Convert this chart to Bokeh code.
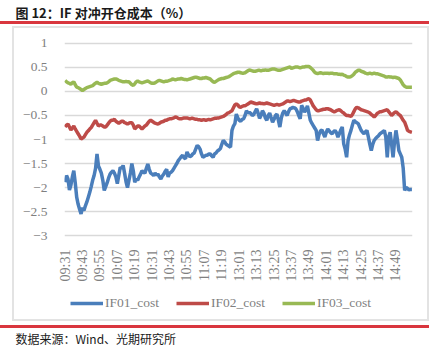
import math
from bokeh.plotting import figure
from bokeh.layouts import column
from bokeh.models import (Range1d, FixedTicker, CustomJSTickFormatter, Title,
                          Legend, LegendItem, ColumnDataSource)
from bokeh.embed import file_html
from bokeh.resources import INLINE

tick_labels = ["09:31", "09:43", "09:55", "10:07", "10:19", "10:31", "10:43",
               "10:55", "11:07", "11:19", "13:01", "13:13", "13:25", "13:37",
               "13:49", "14:01", "14:13", "14:25", "14:37", "14:49"]
tick_every = 12
y_ticks = [-3, -2.5, -2, -1.5, -1, -0.5, 0, 0.5, 1]
series_names = ["IF01_cost", "IF02_cost", "IF03_cost"]

if01_cost = [
    -1.89, -1.75, -1.82, -2.05, -1.95, -1.78, -1.65, -1.9, -2.2, -2.35, -2.45, -2.55,
    -2.42, -2.48, -2.38, -2.3, -2.2, -2.1, -1.98, -1.85, -1.75, -1.6, -1.3, -1.55,
    -1.62, -1.7, -1.85, -2.06, -1.98, -1.9, -1.8, -1.72, -1.68, -1.65, -1.7, -1.78,
    -1.92, -1.75, -1.58, -1.6, -1.54, -1.7, -1.88, -2.0, -1.85, -1.7, -1.5, -1.65,
    -1.89, -1.82, -1.85, -1.78, -1.72, -1.65, -1.68, -1.7, -1.6, -1.51, -1.62, -1.7,
    -1.72, -1.75, -1.7, -1.74, -1.72, -1.78, -1.82, -1.76, -1.72, -1.66, -1.62, -1.78,
    -1.7, -1.68, -1.65, -1.6, -1.55, -1.5, -1.44, -1.4, -1.36, -1.33, -1.38, -1.4,
    -1.26, -1.32, -1.36, -1.34, -1.3, -1.28, -1.2, -1.125, -1.15, -1.2, -1.3, -1.37,
    -1.35, -1.33, -1.33, -1.3, -1.3, -1.34, -1.37, -1.3, -1.28, -1.24, -1.22, -1.19,
    -1.1, -1.02, -1.05, -1.1, -1.12, -1.14, -1.16, -0.81, -0.72, -0.67, -0.47, -0.55,
    -0.6, -0.62, -0.58, -0.57, -0.5, -0.4, -0.45, -0.43, -0.46, -0.5, -0.48, -0.42,
    -0.36, -0.45, -0.56, -0.5, -0.4, -0.45, -0.55, -0.6, -0.5, -0.45, -0.55, -0.64,
    -0.58, -0.5, -0.47, -0.6, -0.74, -0.55, -0.45, -0.4, -0.45, -0.5, -0.42, -0.36,
    -0.35, -0.33, -0.34, -0.36, -0.42, -0.5, -0.57, -0.29, -0.35, -0.43, -0.38, -0.3,
    -0.45, -0.6, -0.66, -0.71, -0.76, -0.81, -1.02, -0.9, -0.82, -0.8, -0.88, -0.95,
    -0.85, -0.78, -0.82, -0.86, -0.88, -0.84, -0.81, -0.86, -0.95, -0.88, -0.8, -0.74,
    -1.09, -1.2, -1.37, -1.02, -0.9, -0.81, -0.7, -0.6, -0.63, -0.65, -0.67, -0.74,
    -0.81, -0.85, -0.88, -0.84, -0.81, -0.95, -1.1, -1.23, -1.1, -1.02, -0.98, -0.95,
    -0.92, -0.88, -0.86, -0.84, -0.81, -0.95, -1.37, -0.95, -0.85, -1.1, -1.37, -1.05,
    -0.81, -1.0, -1.23, -1.3, -1.37, -1.6, -2.06, -2.0, -2.02, -2.05, -2.04, -2.04,
]

if02_cost = [
    -0.74, -0.7, -0.68, -0.74, -0.8, -0.76, -0.72, -0.78, -0.83, -0.88, -0.93, -0.99,
    -0.97, -0.95, -0.9, -0.85, -0.82, -0.78, -0.75, -0.7, -0.65, -0.6, -0.66, -0.72,
    -0.7, -0.7, -0.72, -0.74, -0.74, -0.7, -0.66, -0.62, -0.6, -0.6, -0.58, -0.62,
    -0.64, -0.66, -0.64, -0.62, -0.62, -0.65, -0.66, -0.68, -0.66, -0.65, -0.65, -0.7,
    -0.78, -0.75, -0.72, -0.72, -0.75, -0.78, -0.75, -0.72, -0.7, -0.66, -0.62, -0.6,
    -0.62, -0.64, -0.66, -0.67, -0.68, -0.66, -0.64, -0.63, -0.62, -0.6, -0.6, -0.58,
    -0.57, -0.57, -0.56, -0.55, -0.53, -0.54, -0.56, -0.57, -0.57, -0.56, -0.55, -0.55,
    -0.55, -0.56, -0.57, -0.56, -0.56, -0.57, -0.58, -0.58, -0.59, -0.59, -0.6, -0.59,
    -0.59, -0.6, -0.59, -0.58, -0.59, -0.58, -0.57, -0.56, -0.56, -0.55, -0.55, -0.54,
    -0.53, -0.52, -0.5, -0.48, -0.45, -0.44, -0.42, -0.4, -0.34, -0.28, -0.26, -0.28,
    -0.32, -0.33, -0.31, -0.3, -0.3, -0.28, -0.26, -0.24, -0.22, -0.23, -0.24, -0.25,
    -0.26, -0.25, -0.24, -0.25, -0.25, -0.26, -0.25, -0.24, -0.25, -0.26, -0.27, -0.28,
    -0.29, -0.28, -0.27, -0.28, -0.28, -0.27, -0.26, -0.24, -0.22, -0.2, -0.2, -0.21,
    -0.2, -0.19, -0.19, -0.2, -0.21, -0.22, -0.22, -0.2, -0.19, -0.18, -0.18, -0.16,
    -0.15, -0.18, -0.24, -0.3, -0.34, -0.38, -0.4, -0.4, -0.39, -0.38, -0.37, -0.37,
    -0.36, -0.36, -0.37, -0.38, -0.4, -0.42, -0.42, -0.4, -0.39, -0.38, -0.4, -0.43,
    -0.45, -0.48, -0.5, -0.5, -0.51, -0.52, -0.48, -0.42, -0.36, -0.33, -0.34, -0.36,
    -0.38, -0.39, -0.4, -0.41, -0.42, -0.43, -0.45, -0.48, -0.5, -0.53, -0.5, -0.46,
    -0.44, -0.42, -0.42, -0.41, -0.4, -0.39, -0.38, -0.42, -0.46, -0.5, -0.47, -0.44,
    -0.42, -0.45, -0.48, -0.5, -0.55, -0.6, -0.64, -0.72, -0.81, -0.83, -0.84, -0.85,
]

if03_cost = [
    0.23, 0.2, 0.18, 0.17, 0.15, 0.18, 0.2, 0.14, 0.09, 0.08, 0.06, 0.04,
    0.02, 0.04, 0.06, 0.08, 0.09, 0.1, 0.11, 0.12, 0.15, 0.17, 0.19, 0.17,
    0.16, 0.15, 0.16, 0.17, 0.17, 0.18, 0.2, 0.23, 0.24, 0.25, 0.26, 0.26,
    0.25, 0.23, 0.22, 0.21, 0.2, 0.2, 0.21, 0.2, 0.2, 0.17, 0.14, 0.125,
    0.16, 0.2, 0.22, 0.2, 0.19, 0.18, 0.19, 0.2, 0.21, 0.22, 0.2, 0.18,
    0.17, 0.17, 0.18, 0.2, 0.22, 0.23, 0.22, 0.21, 0.2, 0.21, 0.21, 0.22,
    0.23, 0.24, 0.26, 0.25, 0.24, 0.25, 0.26, 0.26, 0.27, 0.26, 0.25, 0.25,
    0.24, 0.25, 0.26, 0.27, 0.28, 0.29, 0.3, 0.29, 0.28, 0.27, 0.27, 0.28,
    0.28, 0.29, 0.28, 0.27, 0.26, 0.23, 0.2, 0.19, 0.21, 0.23, 0.25, 0.26,
    0.27, 0.27, 0.28, 0.29, 0.3, 0.31, 0.33, 0.35, 0.37, 0.38, 0.39, 0.4,
    0.4, 0.39, 0.38, 0.38, 0.39, 0.41, 0.43, 0.45, 0.44, 0.43, 0.42, 0.42,
    0.43, 0.44, 0.44, 0.43, 0.44, 0.44, 0.45, 0.44, 0.44, 0.45, 0.46, 0.47,
    0.47, 0.46, 0.45, 0.44, 0.44, 0.45, 0.46, 0.47, 0.48, 0.49, 0.5, 0.51,
    0.48, 0.49, 0.5, 0.51, 0.51, 0.5, 0.49, 0.5, 0.51, 0.51, 0.52, 0.52,
    0.52, 0.5, 0.47, 0.44, 0.4, 0.38, 0.37, 0.38, 0.39, 0.38, 0.37, 0.38,
    0.38, 0.38, 0.37, 0.38, 0.38, 0.37, 0.37, 0.37, 0.36, 0.36, 0.35, 0.36,
    0.34, 0.33, 0.31, 0.3, 0.3, 0.31, 0.33, 0.36, 0.4, 0.42, 0.44, 0.44,
    0.42, 0.41, 0.4, 0.38, 0.37, 0.37, 0.38, 0.37, 0.37, 0.38, 0.37, 0.37,
    0.36, 0.35, 0.34, 0.33, 0.32, 0.3, 0.3, 0.31, 0.3, 0.3, 0.29, 0.3,
    0.29, 0.28, 0.27, 0.24, 0.19, 0.14, 0.11, 0.09, 0.09, 0.09, 0.09, 0.09,
]

idx = list(range(len(if01_cost)))
src = ColumnDataSource(dict(x=idx, a=if01_cost, b=if02_cost, c=if03_cost))
colors = ["#4a7ebb", "#be4b48", "#98b954"]
cols = ["a", "b", "c"]

W = 437
red = "#d9363e"
box = "#e3e3e3"
gray = "#7f7f7f"
serif = "Liberation Serif"
cjk = "Noto Sans CJK SC"

# red rules and the light frame box: CSS background behind transparent borders
g = lambda c: f"linear-gradient({c},{c})"
deco = {
    "background-color": "white",
    "background-image": ",".join([g(red), g(red), g(box), g(box), g(box), g(box)]),
    "background-size": "429px 3px,429px 3px,2px 295px,2px 295px,417px 2px,417px 2px",
    "background-position": "0px 21px,0px 325px,12px 26px,427px 26px,12px 26px,12px 319px",
    "background-repeat": "no-repeat",
}

# ---------------- main chart
p = figure(frame_width=348, frame_height=196, output_backend="svg",
           toolbar_location=None,
           x_range=Range1d(-0.4, len(idx) - 0.6), y_range=Range1d(-3.04, 1.04),
           min_border_left=64, min_border_right=25, min_border_top=41,
           min_border_bottom=53)
p.outline_line_color = None
p.background_fill_color = "white"
p.border_fill_alpha = 0

p.title.text = "图 12：IF 对冲开仓成本（%）"
p.title.align = "left"
p.title.offset = -49
p.title.standoff = 0
p.title.text_font = cjk
p.title.text_font_style = "bold"
p.title.text_font_size = "13px"
p.title.text_color = "#1a1a1a"
p.add_layout(Title(text=" ", text_font_size="1px", standoff=17), "above")

p.yaxis.ticker = FixedTicker(ticks=y_ticks)
p.yaxis.formatter = CustomJSTickFormatter(code="return tick.toString().replace('-', '\u2212');")
p.yaxis.axis_line_color = None
p.yaxis.major_tick_line_color = None
p.yaxis.minor_tick_line_color = None
p.yaxis.major_label_text_font = serif
p.yaxis.major_label_text_font_size = "13.5px"
p.yaxis.major_label_text_color = gray
p.yaxis.major_label_standoff = 11

p.xaxis.ticker = FixedTicker(ticks=[i * tick_every for i in range(len(tick_labels))])
p.xaxis.major_label_overrides = {i * tick_every: t for i, t in enumerate(tick_labels)}
p.xaxis.axis_line_color = None
p.xaxis.major_tick_line_color = None
p.xaxis.minor_tick_line_color = None
p.xaxis.major_label_orientation = math.pi / 2
p.xaxis.major_label_text_font = serif
p.xaxis.major_label_text_font_size = "14px"
p.xaxis.major_label_text_color = gray
p.xaxis.major_label_standoff = 6

p.xgrid.grid_line_color = None
p.ygrid.ticker = FixedTicker(ticks=y_ticks)
p.ygrid.grid_line_color = "#d9d9d9"
p.ygrid.grid_line_width = 1.5

for col, c in zip(cols, colors):
    p.line("x", col, source=src, line_color=c, line_width=3.5)

# ---------------- legend + source strip
q = figure(width=W, height=64, output_backend="svg", toolbar_location=None,
           x_range=Range1d(-0.4, len(idx) - 0.6), y_range=Range1d(100, 101),
           x_axis_type=None, y_axis_type=None,
           min_border_left=64, min_border_right=25, min_border_top=0,
           min_border_bottom=30)
q.outline_line_color = None
q.grid.grid_line_color = None
q.background_fill_alpha = 0
q.border_fill_alpha = 0

# same series in the strip (outside its y range) so legend glyphs can be drawn
keys = [q.line("x", col, source=src, line_color=c, line_width=3.5)
        for col, c in zip(cols, colors)]
legend = Legend(items=[LegendItem(label=n, renderers=[r]) for n, r in zip(series_names, keys)],
                orientation="horizontal", location=(6, 13))
legend.glyph_width = 33
legend.glyph_height = 16
legend.label_standoff = 2
legend.spacing = 17
legend.padding = 0
legend.margin = 0
legend.border_line_color = None
legend.background_fill_alpha = 0
legend.label_text_font = serif
legend.label_text_font_size = "13.5px"
legend.label_text_color = gray
q.add_layout(legend, "center")

q.add_layout(Title(text="数据来源：Wind、光期研究所", align="left", offset=-49,
                   standoff=10, vertical_align="top", text_font=cjk,
                   text_font_style="normal", text_font_size="12px",
                   text_color="#1a1a1a"), "below")

layout = column(p, q, spacing=0, styles=deco)
open("out.html", "w").write(file_html(layout, INLINE))
